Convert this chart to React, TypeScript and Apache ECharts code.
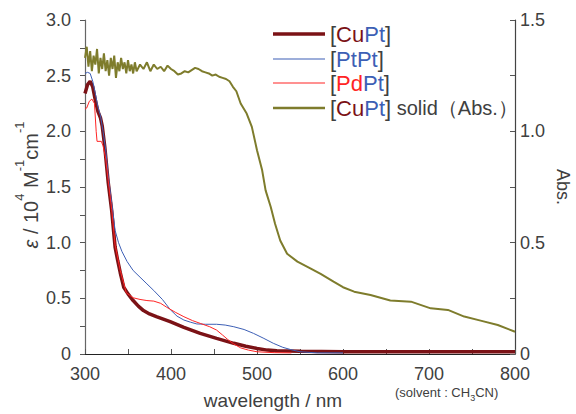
import React, { useEffect, useRef } from 'react';
import * as echarts from 'echarts';

// ---- data ----
const xTicks = [300, 400, 500, 600, 700, 800];
const yLeftTicks = [0, 0.5, 1.0, 1.5, 2.0, 2.5, 3.0];
const yRightTicks = [0, 0.5, 1.0, 1.5];

const wlCuPt = [300, 303, 306, 309, 312, 315, 318, 320, 323, 327, 331, 335, 338, 341, 345, 350, 356, 362, 368, 375, 383, 399, 415, 434, 453, 473, 487, 500, 512, 523, 550, 600, 700, 800];
const epsCuPt = [2.34, 2.42, 2.45, 2.40, 2.28, 2.18, 2.12, 2.05, 1.86, 1.54, 1.29, 0.96, 0.84, 0.73, 0.60, 0.54, 0.48, 0.43, 0.39, 0.36, 0.335, 0.29, 0.24, 0.185, 0.14, 0.096, 0.07, 0.05, 0.035, 0.03, 0.025, 0.02, 0.02, 0.02];

const wlPtPt = [300, 303, 306, 309, 312, 315, 318, 321, 324, 327, 331, 335, 339, 343, 349, 356, 364, 372, 380, 390, 399, 407, 415, 423, 430, 440, 453, 463, 473, 485, 496, 508, 519, 530, 539, 550, 570, 600];
const epsPtPt = [2.52, 2.53, 2.52, 2.45, 2.34, 2.22, 2.14, 2.00, 1.84, 1.60, 1.36, 1.11, 1.00, 0.92, 0.83, 0.75, 0.69, 0.63, 0.57, 0.49, 0.40, 0.34, 0.305, 0.285, 0.27, 0.267, 0.267, 0.26, 0.245, 0.22, 0.185, 0.14, 0.096, 0.06, 0.04, 0.02, 0.01, 0.01];

const wlPdPt = [300, 302, 305, 308, 311, 313, 314, 319, 321, 324, 327, 331, 335, 341, 348, 356, 364, 372, 380, 388, 395, 405, 415, 425, 434, 445, 453, 460, 466, 473, 481, 490, 500, 520, 540];
const epsPdPt = [2.20, 2.21, 2.27, 2.29, 2.25, 2.00, 1.91, 1.91, 1.87, 1.76, 1.56, 1.30, 0.98, 0.75, 0.55, 0.505, 0.49, 0.48, 0.475, 0.455, 0.42, 0.375, 0.335, 0.30, 0.275, 0.245, 0.215, 0.17, 0.13, 0.09, 0.055, 0.035, 0.02, 0.012, 0.01];

const wlSolid = [300, 302, 304, 306, 308, 310, 312, 314, 316, 318, 320, 322, 324, 326, 328, 330, 332, 334, 336, 338, 340, 342, 344, 346, 348, 350, 352, 354, 356, 358, 360, 364, 368, 372, 376, 380, 384, 388, 392, 396, 400, 404, 408, 412, 416, 420, 424, 428, 432, 436, 440, 444, 448, 452, 456, 460, 464, 468, 472, 476, 481, 488, 494, 500, 506, 510, 516, 521, 527, 535, 547, 562, 574, 589, 600, 613, 632, 655, 679, 702, 722, 741, 760, 780, 800];
const absSolid = [1.33, 1.38, 1.29, 1.36, 1.27, 1.34, 1.30, 1.37, 1.26, 1.33, 1.28, 1.35, 1.27, 1.32, 1.25, 1.33, 1.28, 1.34, 1.24, 1.31, 1.27, 1.33, 1.28, 1.31, 1.26, 1.32, 1.27, 1.30, 1.26, 1.31, 1.27, 1.30, 1.28, 1.31, 1.27, 1.30, 1.28, 1.29, 1.27, 1.295, 1.28, 1.27, 1.255, 1.26, 1.27, 1.265, 1.275, 1.285, 1.28, 1.27, 1.265, 1.26, 1.25, 1.255, 1.245, 1.24, 1.235, 1.225, 1.20, 1.18, 1.125, 1.08, 1.02, 0.915, 0.825, 0.735, 0.66, 0.585, 0.51, 0.45, 0.415, 0.385, 0.36, 0.325, 0.30, 0.28, 0.265, 0.24, 0.235, 0.205, 0.198, 0.168, 0.15, 0.13, 0.10];

const seriesNames = ['CuPt', 'PtPt', 'PdPt', 'CuPt solid'];

const C_CU = '#7B1216';
const C_PT = '#3D5FB5';
const C_PD = '#FF2424';
const C_SOLID = '#7E7C2C';
const FONT = '"Liberation Sans", Arial, sans-serif';
const TXT = '#404040';

function pairs(xs: number[], ys: number[]) {
  return xs.map((x, i) => [x, ys[i]]);
}

export default function App() {
  const ref = useRef<HTMLDivElement>(null);
  useEffect(() => {
    const chart = echarts.init(ref.current!, null, { renderer: 'svg' });
    const tok = (color: string, size: number) => ({ color, fontSize: size, lineHeight: 24, fontFamily: FONT });
    const richLegend = {
      k: tok(TXT, 22),
      cu: tok(C_CU, 22),
      pt: tok(C_PT, 22),
      pd: tok(C_PD, 22),
      s: tok(TXT, 20),
    };
    const fmt = (name: string) => {
      if (name === 'CuPt') return '{k|[}{cu|Cu}{pt|Pt}{k|]}';
      if (name === 'PtPt') return '{k|[}{pt|PtPt}{k|]}';
      if (name === 'PdPt') return '{k|[}{pd|Pd}{pt|Pt}{k|]}';
      return '{k|[}{cu|Cu}{pt|Pt}{k|]}{s| solid（Abs.）}';
    };
    const rowTops = [22, 47, 71, 96];
    const iconH = [3.5, 1.2, 1.2, 2.5];
    const legends = seriesNames.map((n, i) => ({
      data: [n],
      left: 273,
      top: rowTops[i],
      padding: 0,
      icon: 'rect',
      itemWidth: 52,
      itemHeight: iconH[i],
      selectedMode: false,
      formatter: fmt,
      textStyle: { rich: richLegend, fontFamily: FONT, fontSize: 22, lineHeight: 24 },
    }));

    chart.setOption({
      animation: false,
      backgroundColor: '#ffffff',
      grid: { left: 85, right: 61, top: 20, bottom: 60 },
      legend: legends,
      xAxis: {
        type: 'value',
        min: 300,
        max: 800,
        interval: 100,
        axisLine: { lineStyle: { color: '#222', width: 1 } },
        axisTick: { inside: true, length: 5, lineStyle: { color: '#555' } },
        minorTick: { show: true, splitNumber: 2, length: 5, lineStyle: { color: '#555' } },
        splitLine: { show: false },
        axisLabel: {
          margin: 11,
          fontSize: 18,
          fontFamily: FONT,
          color: TXT,
          formatter: (v: number) => (xTicks.includes(v) ? String(v) : ''),
        },
      },
      yAxis: [
        {
          type: 'value',
          min: 0,
          max: 3,
          interval: 0.5,
          position: 'left',
          axisLine: { show: true, lineStyle: { color: '#666', width: 1.2 } },
          axisTick: { show: true, inside: false, length: 5, lineStyle: { color: '#555' } },
          minorTick: { show: true, splitNumber: 2, length: 5, lineStyle: { color: '#555' } },
          splitLine: { show: false },
          axisLabel: {
            margin: 14,
            fontSize: 18,
            fontFamily: FONT,
            color: TXT,
            formatter: (v: number) => (yLeftTicks.includes(v) ? (v === 0 ? '0' : v.toFixed(1)) : ''),
          },
        },
        {
          type: 'value',
          min: 0,
          max: 1.5,
          interval: 0.5,
          position: 'right',
          axisLine: { show: true, lineStyle: { color: '#444', width: 1.2 } },
          axisTick: { show: true, inside: true, length: 5, lineStyle: { color: '#555' } },
          minorTick: { show: true, splitNumber: 2, length: 5, lineStyle: { color: '#555' } },
          splitLine: { show: false },
          axisLabel: {
            margin: 5,
            fontSize: 18,
            fontFamily: FONT,
            color: TXT,
            formatter: (v: number) => (yRightTicks.includes(v) ? (v === 0 ? '0' : v.toFixed(1)) : ''),
          },
        },
      ],
      series: [
        {
          name: 'CuPt',
          type: 'line',
          showSymbol: false,
          symbol: 'none',
          data: pairs(wlCuPt, epsCuPt),
          lineStyle: { color: C_CU, width: 3.5 },
          itemStyle: { color: C_CU },
          z: 2,
        },
        {
          name: 'PtPt',
          type: 'line',
          showSymbol: false,
          symbol: 'none',
          data: pairs(wlPtPt, epsPtPt),
          lineStyle: { color: C_PT, width: 1 },
          itemStyle: { color: C_PT },
          z: 3,
        },
        {
          name: 'PdPt',
          type: 'line',
          showSymbol: false,
          symbol: 'none',
          data: pairs(wlPdPt, epsPdPt),
          lineStyle: { color: C_PD, width: 1 },
          itemStyle: { color: C_PD },
          z: 4,
        },
        {
          name: 'CuPt solid',
          type: 'line',
          yAxisIndex: 1,
          showSymbol: false,
          symbol: 'none',
          data: pairs(wlSolid, absSolid),
          lineStyle: { color: C_SOLID, width: 2 },
          itemStyle: { color: C_SOLID },
          z: 5,
        },
      ],
      graphic: [
        {
          type: 'text',
          x: 27,
          y: 185,
          rotation: Math.PI / 2,
          style: {
            text: '{e|ε}{n| / 10}{sup|4}{n| M}{sup|-1}{n|cm}{sup|-1}',
            align: 'center',
            verticalAlign: 'middle',
            fill: TXT,
            fontFamily: FONT,
            fontSize: 20,
            rich: {
              e: { fontSize: 20, fontStyle: 'italic', lineHeight: 28, verticalAlign: 'bottom', fill: TXT, fontFamily: FONT },
              n: { fontSize: 20, lineHeight: 28, verticalAlign: 'bottom', fill: TXT, fontFamily: FONT },
              sup: { fontSize: 13, lineHeight: 28, verticalAlign: 'top', fill: TXT, fontFamily: FONT },
            },
          },
        },
        {
          type: 'text',
          x: 563,
          y: 187,
          rotation: -Math.PI / 2,
          style: {
            text: 'Abs.',
            align: 'center',
            verticalAlign: 'middle',
            fill: TXT,
            fontFamily: FONT,
            fontSize: 18,
          },
        },
        {
          type: 'text',
          x: 273,
          y: 400,
          style: {
            text: 'wavelength / nm',
            align: 'center',
            verticalAlign: 'middle',
            fill: TXT,
            fontFamily: FONT,
            fontSize: 19,
          },
        },
        {
          type: 'text',
          x: 395,
          y: 394,
          style: {
            text: '{n|(solvent : CH}{sub|3}{n|CN)}',
            align: 'left',
            verticalAlign: 'middle',
            fill: TXT,
            fontFamily: FONT,
            fontSize: 13,
            rich: {
              n: { fontSize: 13, lineHeight: 17, verticalAlign: 'top', fill: TXT, fontFamily: FONT },
              sub: { fontSize: 9, lineHeight: 17, verticalAlign: 'bottom', fill: TXT, fontFamily: FONT },
            },
          },
        },
      ],
    });
    return () => chart.dispose();
  }, []);
  return <div ref={ref} style={{ position: 'fixed', left: 0, top: 0, width: 576, height: 414 }} />;
}
